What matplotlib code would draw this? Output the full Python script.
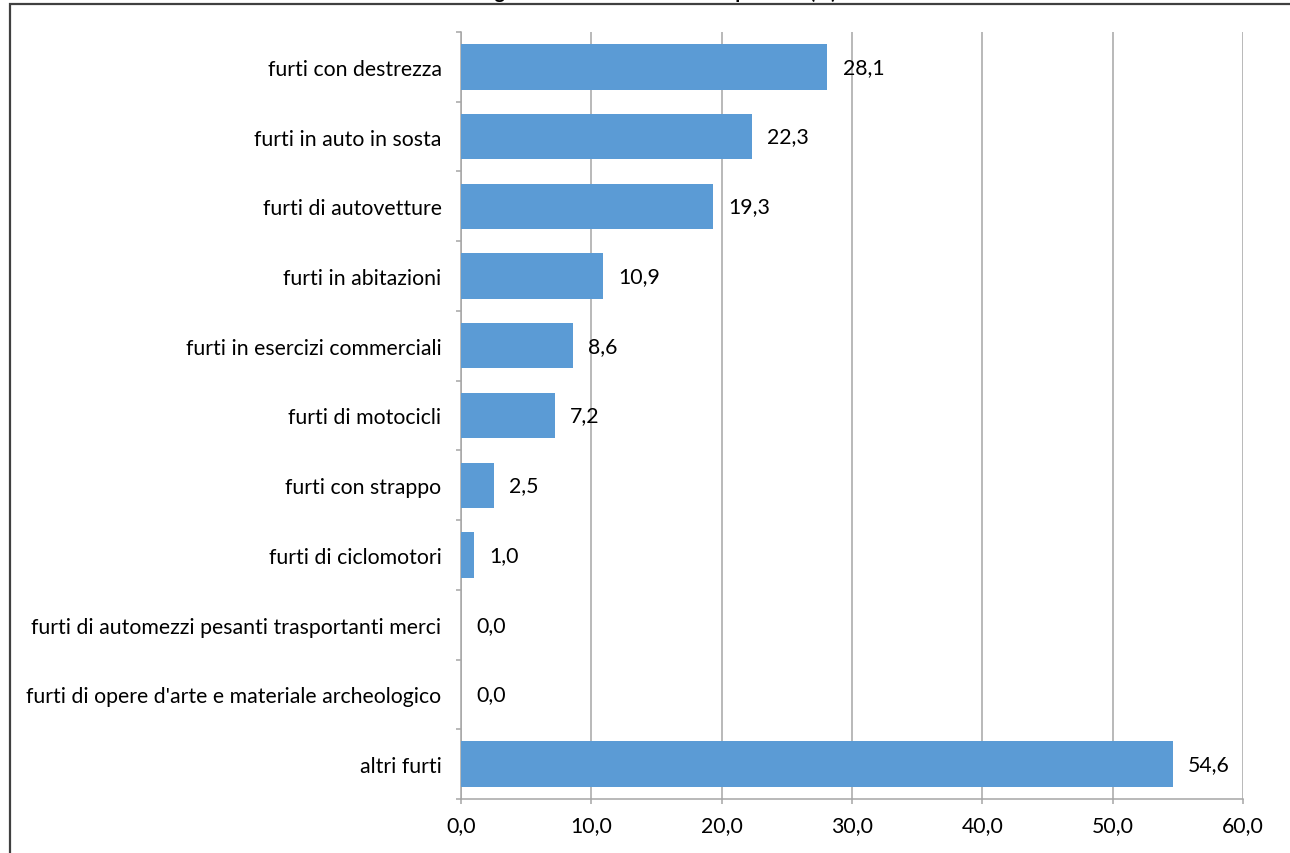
import matplotlib
matplotlib.use("Agg")
import matplotlib.pyplot as plt
from matplotlib.patches import Rectangle
import numpy as np

plt.rcParams['font.family'] = ['Lato', 'DejaVu Sans']

# tipologie di furto, dall'alto verso il basso
categorie = [
    "furti con destrezza",
    "furti in auto in sosta",
    "furti di autovetture",
    "furti in abitazioni",
    "furti in esercizi commerciali",
    "furti di motocicli",
    "furti con strappo",
    "furti di ciclomotori",
    "furti di automezzi pesanti trasportanti merci",
    "furti di opere d'arte e materiale archeologico",
    "altri furti",
]
percentuali = [28.1, 22.3, 19.3, 10.9, 8.6, 7.2, 2.5, 1.0, 0.0, 0.0, 54.6]
titolo = "Categorie di furto sul totale complessivo (%)"
x_ticks = [0, 10, 20, 30, 40, 50, 60]

blu = "#5B9BD5"
grigio = "#A6A6A6"
fs = 15.3

fig = plt.figure(figsize=(12.9, 8.54), dpi=100)
ax = fig.add_axes([461 / 1290, 54 / 854, 782 / 1290, 767 / 854])

# cornice del grafico
fig.patches.append(Rectangle((10 / 1290, -0.1), 1.2, 1.1 - 4.5 / 854,
                             transform=fig.transFigure, fill=False,
                             edgecolor="#404040", linewidth=1.6, zorder=0))
fig.text(0.5, 1 + 1.5 / 854, titolo, ha="center", va="baseline",
         fontsize=14, fontweight="bold")

n = len(categorie)
y = np.arange(n)
ax.barh(y, percentuali, height=0.65, color=blu, zorder=3)

for yi, v in zip(y, percentuali):
    ax.annotate(f"{v:.1f}".replace(".", ","), (v, yi), xytext=(11, 0),
                textcoords="offset points", ha="left", va="center",
                fontsize=fs)

ax.set_xlim(0, 60)
ax.set_ylim(n - 0.5, -0.5)
ax.set_xticks(x_ticks)
ax.set_xticklabels([f"{t:.1f}".replace(".", ",") for t in x_ticks], fontsize=fs)
ax.set_yticks(y)
ax.set_yticklabels(categorie, fontsize=fs)
ax.set_yticks(np.arange(-0.5, n, 1), minor=True)

ax.xaxis.grid(True, color=grigio, linewidth=1.1, zorder=0)
ax.tick_params(axis="y", which="major", length=0, pad=14)
ax.tick_params(axis="y", which="minor", length=3.6, width=1.1, color=grigio, direction="out")
ax.tick_params(axis="x", which="major", length=3.6, width=1.1, color=grigio, pad=8)

for s in ["top", "right"]:
    ax.spines[s].set_visible(False)
for s in ["left", "bottom"]:
    ax.spines[s].set_color(grigio)
    ax.spines[s].set_linewidth(1.1)

fig.savefig("out.png", dpi=100)
